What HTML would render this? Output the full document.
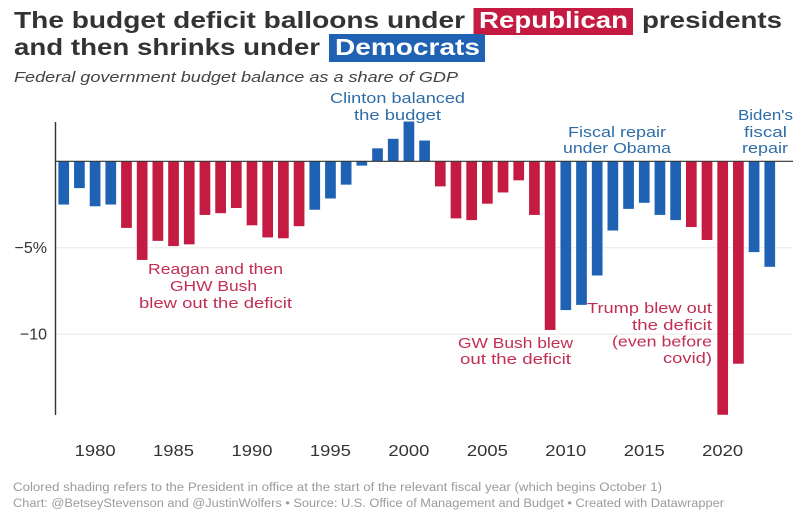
<!DOCTYPE html>
<html lang="en">
<head>
<meta charset="utf-8">
<title>Federal budget balance as a share of GDP</title>
<style>
html,body{margin:0;padding:0;background:#fff;width:807px;height:518px;overflow:hidden}
svg{display:block;font-family:"Liberation Sans",sans-serif}
.t{font-size:23.5px;font-weight:700;fill:#333}
.w{font-size:23.5px;font-weight:700;fill:#fff}
.r{font-size:15px;fill:#c22e54}
.b{font-size:15px;fill:#2f6da8}
.f{font-size:11.5px;fill:#9b9b9b}
.k{font-size:16px;fill:#333}
</style>
</head>
<body>
<svg id="chart" xmlns="http://www.w3.org/2000/svg" width="807" height="518" viewBox="0 0 807 518">
  <rect x="473.5" y="8" width="159.5" height="27" fill="#c51b42"/>
  <rect x="329" y="34" width="156" height="28" fill="#1f62b3"/>
  <text class="t" x="14" y="28" textLength="451" lengthAdjust="spacingAndGlyphs">The budget deficit balloons under</text>
  <text class="w" x="479" y="28" textLength="149" lengthAdjust="spacingAndGlyphs">Republican</text>
  <text class="t" x="642" y="28" textLength="140" lengthAdjust="spacingAndGlyphs">presidents</text>
  <text class="t" x="14" y="55" textLength="306" lengthAdjust="spacingAndGlyphs">and then shrinks under</text>
  <text class="w" x="335" y="55" textLength="145" lengthAdjust="spacingAndGlyphs">Democrats</text>
  <text x="14" y="82" font-size="15" font-style="italic" fill="#444" textLength="444" lengthAdjust="spacingAndGlyphs">Federal government budget balance as a share of GDP</text>

  <g id="grid"></g>
  <g id="bars"></g>
  <g id="axes"></g>

  <g>
    <text class="b" x="330" y="103" textLength="135" lengthAdjust="spacingAndGlyphs">Clinton balanced</text>
    <text class="b" x="354" y="120" textLength="87" lengthAdjust="spacingAndGlyphs">the budget</text>
  </g>
  <g>
    <text class="b" x="568" y="137" textLength="98" lengthAdjust="spacingAndGlyphs">Fiscal repair</text>
    <text class="b" x="563" y="153" textLength="108" lengthAdjust="spacingAndGlyphs">under Obama</text>
  </g>
  <g>
    <text class="b" x="738" y="120" textLength="55" lengthAdjust="spacingAndGlyphs">Biden's</text>
    <text class="b" x="744" y="137" textLength="43" lengthAdjust="spacingAndGlyphs">fiscal</text>
    <text class="b" x="742" y="153" textLength="46" lengthAdjust="spacingAndGlyphs">repair</text>
  </g>
  <g>
    <text class="r" x="148" y="274" textLength="135" lengthAdjust="spacingAndGlyphs">Reagan and then</text>
    <text class="r" x="170" y="291" textLength="87" lengthAdjust="spacingAndGlyphs">GHW Bush</text>
    <text class="r" x="139" y="308" textLength="153" lengthAdjust="spacingAndGlyphs">blew out the deficit</text>
  </g>
  <g>
    <text class="r" x="458" y="348" textLength="115" lengthAdjust="spacingAndGlyphs">GW Bush blew</text>
    <text class="r" x="460" y="364" textLength="111" lengthAdjust="spacingAndGlyphs">out the deficit</text>
  </g>
  <g>
    <text class="r" x="587" y="313" textLength="125" lengthAdjust="spacingAndGlyphs">Trump blew out</text>
    <text class="r" x="632" y="330" textLength="80" lengthAdjust="spacingAndGlyphs">the deficit</text>
    <text class="r" x="612" y="346.5" textLength="100" lengthAdjust="spacingAndGlyphs">(even before</text>
    <text class="r" x="663" y="363" textLength="49" lengthAdjust="spacingAndGlyphs">covid)</text>
  </g>

  <text class="f" x="13" y="491" textLength="649" lengthAdjust="spacingAndGlyphs">Colored shading refers to the President in office at the start of the relevant fiscal year (which begins October 1)</text>
  <text class="f" x="13" y="507" textLength="711" lengthAdjust="spacingAndGlyphs">Chart: @BetseyStevenson and @JustinWolfers • Source: U.S. Office of Management and Budget • Created with Datawrapper</text>
</svg>
<script>
const firstYear = 1978;
const balances = [-2.5,-1.55,-2.6,-2.5,-3.85,-5.7,-4.6,-4.9,-4.8,-3.1,-3.0,-2.7,-3.7,-4.4,-4.45,-3.75,-2.8,-2.15,-1.35,-0.25,0.75,1.3,2.3,1.2,-1.45,-3.3,-3.4,-2.45,-1.8,-1.1,-3.1,-9.75,-8.6,-8.3,-6.6,-4.0,-2.75,-2.4,-3.1,-3.4,-3.8,-4.55,-14.65,-11.7,-5.25,-6.1];
const parties = ["D","D","D","D","R","R","R","R","R","R","R","R","R","R","R","R","D","D","D","D","D","D","D","D","R","R","R","R","R","R","R","R","D","D","D","D","D","D","D","D","R","R","R","R","D","D"];
const xTicks = [1980,1985,1990,1995,2000,2005,2010,2015,2020];
const yTicks = [-5,-10];
const yTickLabels = ["\u22125%","\u221210"];

const NS = "http://www.w3.org/2000/svg";
const x = function (year) { return 95.1 + (year - 1980) * 15.69; };
const y = function (v) { return 161.3 - v * 17.3; };
const partyColor = { D: "#1f62b3", R: "#c51b42" };
const barWidth = 10.7;

function make(tag, attrs, parent) {
  const el = document.createElementNS(NS, tag);
  Object.keys(attrs).forEach(function (k) { el.setAttribute(k, attrs[k]); });
  parent.appendChild(el);
  return el;
}

const grid = document.getElementById("grid");
const bars = document.getElementById("bars");
const axes = document.getElementById("axes");

yTicks.forEach(function (t, i) {
  const line = make("line", { x1: 56, x2: 793, y1: y(t), y2: y(t), stroke: "#e8e8e8", "stroke-width": 1 }, grid);
  
  
  const label = make("text", { x: 47, y: y(t) + 5, "text-anchor": "end", "class": "k" }, axes);
  
  
  label.textContent = yTickLabels[i];
});

balances.forEach(function (v, i) {
  const year = firstYear + i;
  const top = Math.min(y(v), y(0));
  const rect = make("rect", {
    x: x(year) - barWidth / 2,
    y: top,
    width: barWidth,
    height: Math.abs(y(v) - y(0)),
    fill: partyColor[parties[i]]
  }, bars);
  
  
});

const yAxis = make("line", { x1: 55.5, x2: 55.5, y1: 122, y2: 415, stroke: "#333", "stroke-width": 1.4 }, axes);


const zeroLine = make("line", { x1: 55, x2: 793, y1: y(0), y2: y(0), stroke: "#333", "stroke-width": 1.2 }, axes);



xTicks.forEach(function (t) {
  const label = make("text", { x: x(t) - 20.5, y: 456, "class": "k", textLength: 41, lengthAdjust: "spacingAndGlyphs" }, axes);
  
  
  label.textContent = String(t);
});
</script>
</body>
</html>
